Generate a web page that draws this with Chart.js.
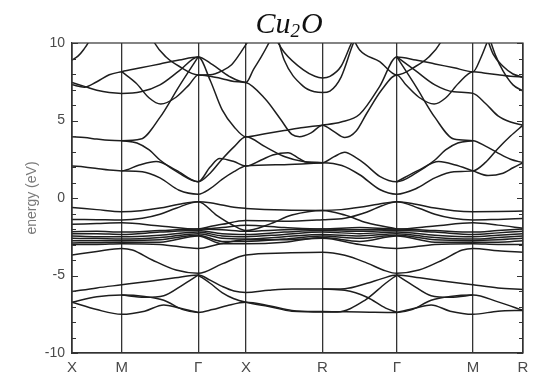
<!DOCTYPE html>
<html>
<head>
<meta charset="utf-8">
<script src="https://cdn.jsdelivr.net/npm/chart.js@4/dist/chart.umd.min.js"></script>
<style>
  html, body { margin: 0; padding: 0; background: #fff; }
  #wrap { width: 550px; height: 391px; }
</style>
</head>
<body>
<div id="wrap"><canvas id="bands"></canvas></div>
<script>
// k-path: positions of the high symmetry points along the path
var kpts = [0, 0.497, 1.263, 1.74, 2.507, 3.25, 4.013, 4.513];
var kLabels = ['X', 'M', '\u0393', 'X', 'R', '\u0393', 'M', 'R'];
var yTicks = [-10, -5, 0, 5, 10];

// bands: [t, E(eV)], t = segment index + fraction along the segment
var U1 = [[0,8.9],[0.12,9.15],[0.24,9.6],[0.34,10.1],[0.45,11]];
var U2 = [[0,7.3],[0.25,7.15],[0.5,7.5],[0.75,7.95],[1,8.15],[1.25,8.4],[1.5,8.65],[1.75,8.9],[2,9.1],
          [2.3,8.6],[2.65,7.85],[3,7.45],[3.1,8.3],[3.2,9.1],[3.3,10],[3.4,11]];
var U3 = [[0,7.45],[0.25,7.2],[0.5,6.95],[0.75,6.8],[1,6.75],[1.25,6.85],[1.5,7.3],[1.75,8.2],[2,9.1],
          [2.25,7.6],[2.5,5.7],[2.75,4.6],[3,3.95],[3.25,4.15],[3.5,4.35],[3.75,4.55],[4,4.7],
          [4.25,4.9],[4.5,5.4],[4.77,7.2],[5,9.1],[5.25,8.9],[5.5,8.65],[5.75,8.4],[6,8.15],
          [6.15,9.0],[6.3,10.2],[6.4,11]];
var U4 = [[1,8.15],[1.19,7.4],[1.36,6.45],[1.51,6.06],[1.71,6.5],[1.88,7.3],[2,7.94],
          [2.25,7.85],[2.5,7.7],[2.75,7.52],[3,7.45],[3.25,6.4],[3.45,5.1],[3.6,4.1],[3.7,3.95],[3.85,4.2],[4,4.7],
          [4.15,4.3],[4.3,3.9],[4.45,4.3],[4.6,5.5],[4.8,7.0],[5,7.94],
          [5.12,7.3],[5.29,6.5],[5.49,6.06],[5.64,6.45],[5.81,7.4],[6,8.15],
          [6.25,8.05],[6.5,7.95],[6.75,7.85],[7,7.8]];
var U5 = [[5,9.1],[5.25,8.2],[5.5,7.3],[5.75,6.85],[6,6.75],[6.25,6.1],[6.5,5.3],[6.75,4.9],[7,4.7]];
var U6 = [[0,3.95],[0.25,3.9],[0.5,3.8],[0.75,3.72],[1,3.7],[1.25,3.8],[1.5,5.2],[1.75,7.2],[2,9.1]];
var U7 = [[5,9.1],[5.25,7.2],[5.5,5.2],[5.75,3.8],[6,3.7],[6.25,3.35],[6.5,2.9],[6.75,2.5],[7,2.28]];
var U8 = [[1,3.7],[1.2,3.55],[1.36,3.1],[1.5,2.45],[1.75,1.6],[2,1.05],
          [2.25,1.6],[2.5,2.5],[2.75,3.3],[3,3.95],[3.25,3.31],[3.51,2.66],[3.75,2.35],[4,2.28],
          [4.15,2.65],[4.3,2.95],[4.45,2.6],[4.57,2.2],[4.77,1.4],[5,1.05],
          [5.25,1.6],[5.5,2.45],[5.64,3.1],[5.8,3.55],[6,3.7]];
var U9 = [[0,2.06],[0.25,2.0],[0.5,1.9],[0.75,1.8],[1,1.75],[1.23,2.13],[1.45,2.35],[1.71,1.8],[2,1.05],
          [2.25,2.0],[2.45,2.55],[2.75,2.35],[3,2.06],[3.2,2.45],[3.35,2.78],[3.55,2.92],[3.69,2.56],[3.8,2.3],[4,2.28],
          [4.26,2.1],[4.5,1.5],[4.77,0.55],[5,0.25],[5.25,0.6],[5.5,1.3],[5.75,1.7],[6,1.75],
          [6.25,2.3],[6.5,3.2],[6.75,4.0],[7,4.7]];
var U10 = [[1,1.75],[1.27,1.7],[1.5,1.3],[1.75,0.5],[2,0.25],[2.25,0.6],[2.5,1.2],[2.75,1.7],[3,2.06],
           [3.5,2.15],[4,2.28]];
var U11 = [[5,1.05],[5.29,1.8],[5.55,2.35],[5.77,2.13],[6,1.75],[6.3,1.45],[6.6,1.6],[6.8,1.95],[7,2.28]];
var U12 = [[3.35,10.6],[3.5,9.4],[3.75,8.26],[3.9,7.85],[4,7.75],[4.1,7.85],[4.25,8.5],[4.39,10],[4.5,11]];
var U13 = [[3.4,10.6],[3.5,8.9],[3.75,7.2],[3.9,6.85],[4,6.8],[4.1,6.9],[4.25,7.8],[4.4,9.8],[4.5,11]];
var U14 = [[1.38,10.6],[1.43,10],[1.58,9.1],[1.75,8.5],[2,7.94],[2.25,7.95],[2.5,8.2],[2.7,8.6],[2.85,9.2],[3,9.9],[3.1,10.6]];
var U15 = [[4.4,10.4],[4.5,9.55],[4.77,8.8],[5,7.94],[5.25,8.5],[5.42,9.1],[5.57,10],[5.62,10.6]];
var U16 = [[6.25,10.6],[6.4,9.3],[6.6,8.5],[6.8,8.0],[7,7.8]];
var U17 = [[6.3,10.6],[6.45,9.2],[6.6,8.2],[6.8,7.3],[7,6.9]];

var D1 = [[0,-0.62],[0.5,-0.75],[1,-0.88],[1.25,-0.82],[1.5,-0.65],[1.75,-0.4],[2,-0.24],
          [2.25,-0.3],[2.5,-0.45],[2.75,-0.6],[3,-0.67],[3.5,-0.78],[4,-0.8],
          [4.25,-0.75],[4.5,-0.6],[4.75,-0.4],[5,-0.24],[5.25,-0.4],[5.5,-0.65],[5.75,-0.82],[6,-0.88],
          [6.5,-0.87],[7,-0.84]];
var D2 = [[0,-1.38],[0.5,-1.4],[1,-1.42],[1.27,-1.31],[1.5,-1.05],[1.71,-0.66],[2,-0.24],
          [2.38,-1.1],[2.72,-1.74],[3,-2.1],[3.3,-1.7],[3.6,-1.1],[4,-0.8],[4.3,-1.1],[4.6,-1.6],[5,-2.0]];
var D3 = [[2,-2.0],[2.5,-1.7],[3,-1.45],[3.5,-1.5],[4,-1.4],[4.3,-1.3],[4.6,-0.9],[4.8,-0.5],[5,-0.24],
          [5.29,-0.66],[5.5,-1.05],[5.73,-1.31],[6,-1.42],[6.5,-1.38],[7,-1.33]];
var D4 = [[0,-1.7],[0.5,-1.65],[1,-1.6],[1.5,-1.8],[2,-2.0],[2.5,-1.9],[3,-1.75],[3.5,-1.9],[4,-2.0],
          [4.5,-1.9],[5,-2.0],[5.5,-1.8],[6,-1.6],[6.5,-1.75],[7,-1.95]];
var E1 = [[0,-2.17],[0.5,-2.15],[1,-2.2],[1.5,-2.1],[2,-2.0],[2.5,-2.05],[3,-2.15],[3.5,-2.05],[4,-2.0],
          [4.5,-2.05],[5,-2.0],[5.5,-2.1],[6,-2.2],[6.5,-2.1],[7,-2.0]];
var E2 = [[0,-2.3],[0.5,-2.3],[1,-2.35],[1.5,-2.2],[2,-2.1],[2.5,-2.3],[3,-2.35],[3.5,-2.2],[4,-2.1],
          [4.5,-2.15],[5,-2.1],[5.5,-2.2],[6,-2.35],[6.5,-2.25],[7,-2.15]];
var E3 = [[0,-2.45],[0.5,-2.5],[1,-2.5],[1.5,-2.4],[2,-2.2],[2.5,-2.45],[3,-2.5],[3.5,-2.35],[4,-2.2],
          [4.5,-2.3],[5,-2.2],[5.5,-2.4],[6,-2.5],[6.5,-2.4],[7,-2.3]];
var E4 = [[0,-2.6],[0.5,-2.62],[1,-2.65],[1.5,-2.55],[2,-2.3],[2.5,-2.6],[3,-2.65],[3.5,-2.5],[4,-2.35],
          [4.5,-2.45],[5,-2.3],[5.5,-2.55],[6,-2.65],[6.5,-2.55],[7,-2.45]];
var E5 = [[0,-2.75],[0.5,-2.75],[1,-2.75],[1.5,-2.7],[2,-2.4],[2.5,-2.8],[3,-2.8],[3.5,-2.65],[4,-2.45],
          [4.5,-2.6],[5,-2.4],[5.5,-2.7],[6,-2.75],[6.5,-2.7],[7,-2.6]];
var E6 = [[0,-2.9],[0.5,-2.88],[1,-2.85],[1.5,-2.85],[2,-2.45],[2.5,-2.95],[3,-2.95],[3.5,-2.85],[4,-2.55],
          [4.5,-2.8],[5,-2.45],[5.5,-2.85],[6,-2.85],[6.5,-2.85],[7,-2.75]];
var E7 = [[0,-3.0],[0.5,-3.0],[1,-2.95],[1.5,-3.0],[2,-3.25],[2.4,-3.0],[3,-2.7],[3.5,-2.7],[4,-2.6],
          [4.5,-3.0],[5,-3.25],[5.5,-3.0],[6,-2.95],[6.5,-3.0],[7,-3.0]];
var E8 = [[0,-3.68],[0.5,-3.45],[1,-3.25],[1.14,-3.35],[1.4,-4.0],[1.71,-4.65],[2,-4.86],[2.5,-4.25],[3,-3.68],
          [3.5,-3.55],[4,-3.5],[4.3,-3.7],[4.6,-4.2],[4.85,-4.7],[5,-4.86],[5.29,-4.65],[5.6,-4.0],[5.86,-3.35],[6,-3.25],
          [6.5,-3.4],[7,-3.5]];
var F1 = [[0,-6.04],[0.5,-5.8],[1,-5.6],[1.4,-5.35],[1.7,-5.15],[2,-4.97],[2.25,-5.3],[2.5,-5.7],[2.75,-6.0],[3,-6.09],
          [3.3,-5.95],[3.6,-5.87],[4,-5.87],[4.3,-5.85],[4.6,-5.5],[4.8,-5.2],[5,-4.97],[5.3,-5.15],[5.6,-5.35],[6,-5.6],
          [6.5,-5.8],[7,-5.9]];
var F2 = [[0,-6.73],[0.5,-6.37],[1,-6.26],[1.3,-6.35],[1.55,-6.6],[1.8,-7.2],[2,-7.38],[2.3,-7.2],[2.6,-6.95],[3,-6.73],
          [3.3,-6.95],[3.6,-7.25],[4,-7.33],[4.5,-7.35],[5,-7.38],[5.2,-7.2],[5.45,-6.6],[5.7,-6.35],[6,-6.26],
          [6.5,-6.7],[7,-7.25]];
var F3 = [[0,-6.73],[0.5,-7.2],[1,-7.5],[1.3,-7.3],[1.55,-6.9],[1.75,-7.1],[2,-7.38]];
var F4 = [[2,-4.97],[2.25,-5.5],[2.5,-6.1],[2.75,-6.5],[3,-6.73],[3.3,-7.0],[3.6,-7.3],[4,-7.35],
          [4.2,-7.35],[4.57,-6.6],[4.85,-5.5],[5,-4.97]];
var F5 = [[5,-7.38],[5.25,-7.1],[5.45,-6.9],[5.7,-7.3],[6,-7.5],[6.5,-7.3],[7,-7.25]];
var F6 = [[4,-5.87],[4.3,-5.95],[4.6,-6.4],[4.85,-7.1],[5,-7.38]];
var F7 = [[1,-6.26],[1.3,-6.4],[1.55,-6.3],[1.8,-5.6],[2,-4.97]];
var F8 = [[5,-4.97],[5.2,-5.6],[5.45,-6.3],[5.7,-6.4],[6,-6.26]];

var allBands = [U1,U2,U3,U4,U5,U6,U7,U8,U9,U10,U11,U12,U13,U14,U15,U16,U17,
                D1,D2,D3,D4,E1,E2,E3,E4,E5,E6,E7,E8,F1,F2,F3,F4,F5,F6,F7,F8];

// path parameter -> k position
function tToK(t) {
    var i = Math.min(Math.floor(t), kpts.length - 2);
    var f = t - i;
    return kpts[i] + f * (kpts[i + 1] - kpts[i]);
}

var datasets = allBands.map(function(band) {
    return {
        data: band.map(function(p) { return {x: tToK(p[0]), y: p[1]}; }),
        showLine: true,
        borderColor: '#1e1e1e',
        borderWidth: 1.5,
        pointRadius: 0,
        cubicInterpolationMode: 'monotone',
        fill: false
    };
});

// frame, inner minor ticks and the formula title
var decor = {
    id: 'decor',
    afterDatasetsDraw: function(chart) {
        var ctx = chart.ctx, a = chart.chartArea, y = chart.scales.y;
        ctx.save();
        ctx.strokeStyle = '#333';
        ctx.lineWidth = 1.2;
        ctx.strokeRect(a.left, a.top, a.right - a.left, a.bottom - a.top);
        ctx.lineWidth = 1;
        for (var e = -10; e <= 10; e++) {
            var py = Math.round(y.getPixelForValue(e)) + 0.5;
            var len = (e % 5 === 0) ? 6 : 4;
            ctx.beginPath();
            ctx.moveTo(a.left, py); ctx.lineTo(a.left + len, py);
            ctx.moveTo(a.right, py); ctx.lineTo(a.right - len, py);
            ctx.stroke();
        }
        ctx.restore();
    },
    afterDraw: function(chart) {
        var ctx = chart.ctx;
        ctx.save();
        ctx.fillStyle = '#111';
        ctx.textBaseline = 'alphabetic';
        var big = 'italic 30px "Liberation Serif", "DejaVu Serif", serif';
        var small = 'italic 19px "Liberation Serif", "DejaVu Serif", serif';
        ctx.font = big;  var w1 = ctx.measureText('Cu').width, w3 = ctx.measureText('O').width;
        ctx.font = small; var w2 = ctx.measureText('2').width;
        var x0 = 289 - (w1 + w2 + w3 + 1) / 2;
        ctx.font = big;   ctx.fillText('Cu', x0, 33);
        ctx.font = small; ctx.fillText('2', x0 + w1, 37);
        ctx.font = big;   ctx.fillText('O', x0 + w1 + w2 + 1, 33);
        ctx.restore();
    }
};

new Chart(document.getElementById('bands'), {
    type: 'scatter',
    data: { datasets: datasets },
    plugins: [decor],
    options: {
        responsive: true,
        maintainAspectRatio: false,
        animation: false,
        layout: { padding: { top: 43, right: 27, left: 0, bottom: 0 } },
        plugins: { legend: { display: false }, tooltip: { enabled: false }, title: { display: false } },
        scales: {
            x: {
                type: 'linear',
                min: 0,
                max: kpts[kpts.length - 1],
                afterBuildTicks: function(s) { s.ticks = kpts.map(function(v) { return {value: v}; }); },
                afterFit: function(s) { s.height = 38; },
                ticks: {
                    autoSkip: false, maxRotation: 0, padding: 6, color: '#4a4a4a',
                    font: { family: 'Arial, "Liberation Sans", sans-serif', size: 15 },
                    callback: function(v, i) { return kLabels[i]; }
                },
                grid: { color: '#333', lineWidth: 1.3, drawTicks: false },
                border: { color: '#333', width: 1.2 }
            },
            y: {
                min: -10,
                max: 10,
                afterBuildTicks: function(s) { s.ticks = yTicks.map(function(v) { return {value: v}; }); },
                afterFit: function(s) { s.width = 72; },
                ticks: {
                    padding: 7, color: '#4a4a4a',
                    font: { family: 'Arial, "Liberation Sans", sans-serif', size: 14 }
                },
                grid: { display: false, drawTicks: false },
                border: { color: '#333', width: 1.2 },
                title: {
                    display: true, text: 'energy (eV)', color: '#7a7a7a',
                    font: { family: 'Arial, "Liberation Sans", sans-serif', size: 14 },
                    padding: { top: 24, bottom: 0 }
                }
            }
        }
    }
});
</script>
</body>
</html>
